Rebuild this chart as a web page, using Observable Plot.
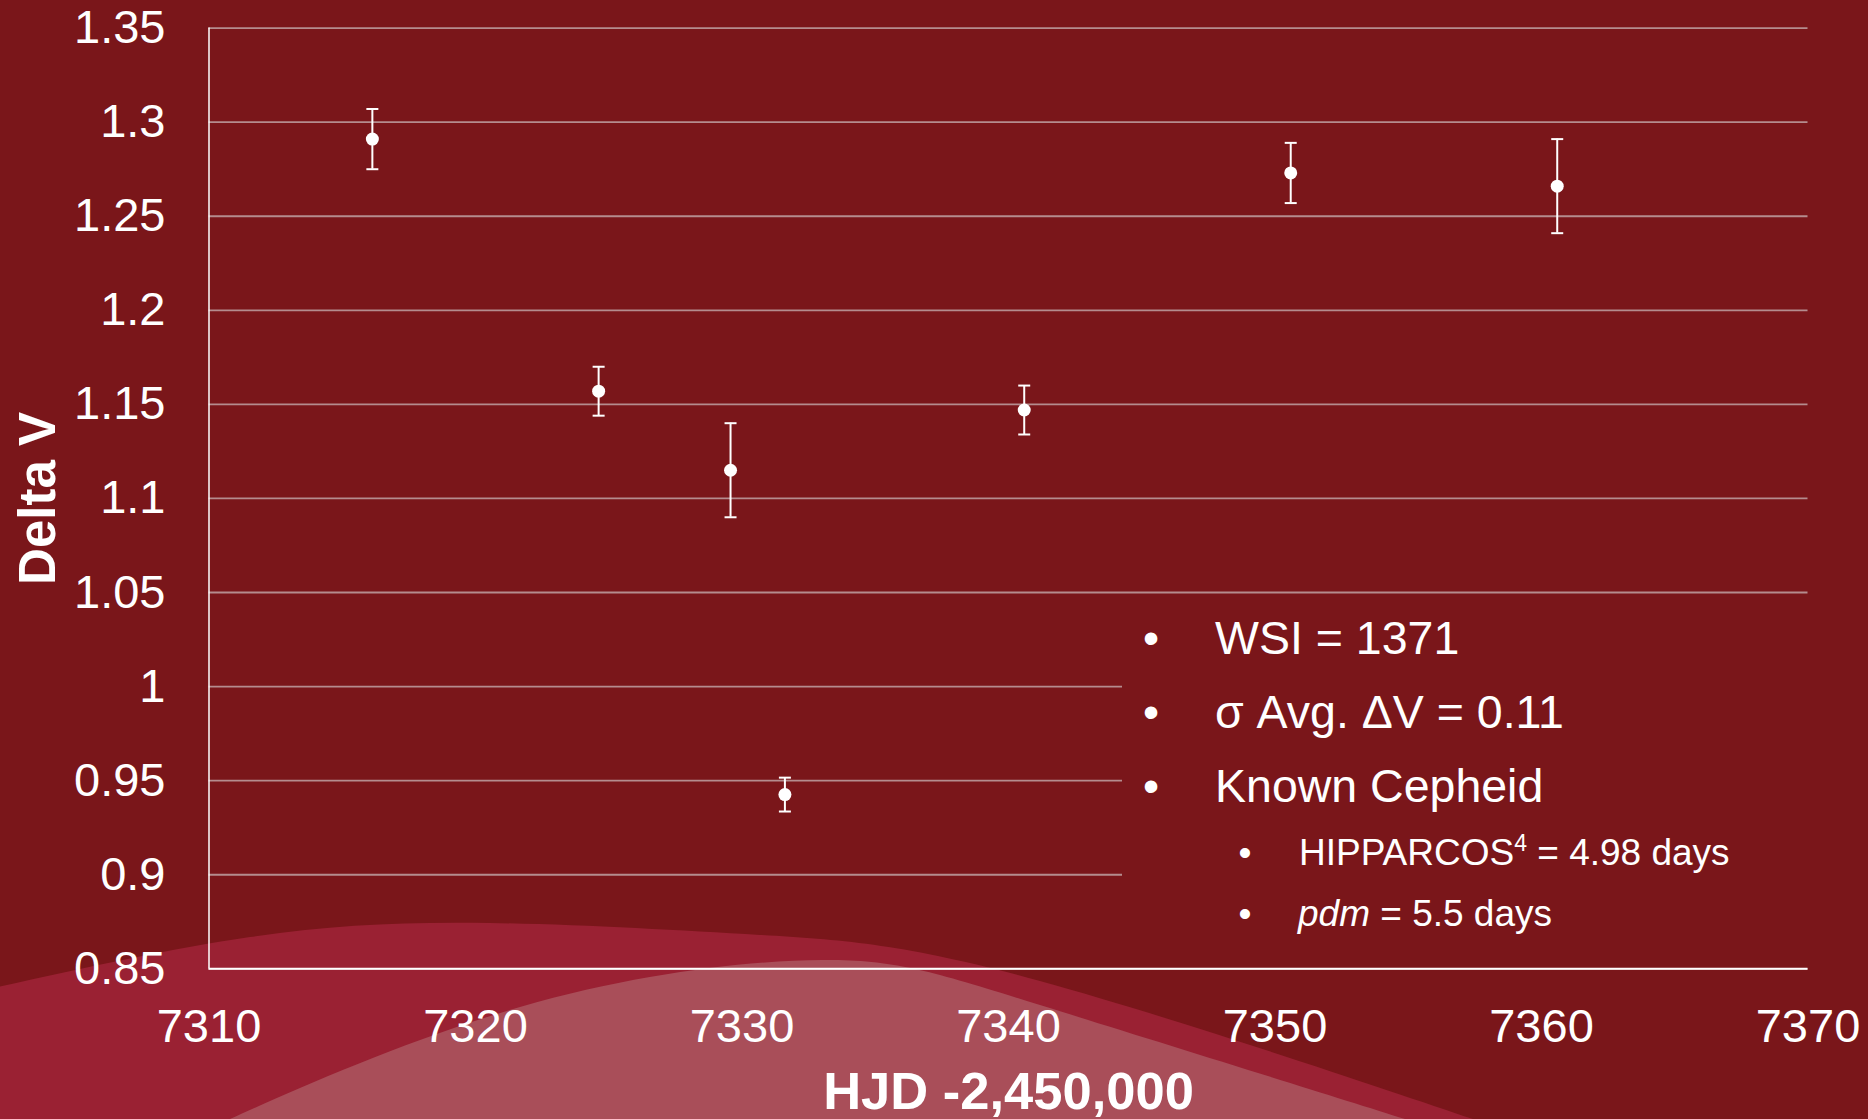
<!DOCTYPE html>
<html>
<head>
<meta charset="utf-8">
<script src="https://cdn.jsdelivr.net/npm/d3@7"></script>
<script src="https://cdn.jsdelivr.net/npm/@observablehq/plot@0.6"></script>
<style>
html, body { margin: 0; padding: 0; background: #7a161a; overflow: hidden; }
#wrap { position: relative; width: 1868px; height: 1119px; overflow: hidden; background: #7a161a;
        font-family: "Liberation Sans", Arial, sans-serif; }
#wrap > svg { position: absolute; left: 0; top: 0; }
</style>
</head>
<body>
<div id="wrap"></div>
<script>
// ---- data ----
const hjd    = [7316.13, 7324.62, 7329.57, 7331.61, 7340.59, 7350.59, 7360.59];
const deltaV = [1.291, 1.157, 1.115, 0.9426, 1.147, 1.273, 1.266];
const errV   = [0.016, 0.013, 0.025, 0.009, 0.013, 0.016, 0.025];

const xTicks = [7310, 7320, 7330, 7340, 7350, 7360, 7370];
const xTickLabels = ["7310", "7320", "7330", "7340", "7350", "7360", "7370"];
const yTicks = [0.85, 0.9, 0.95, 1, 1.05, 1.1, 1.15, 1.2, 1.25, 1.3, 1.35];
const yTickLabels = ["0.85", "0.9", "0.95", "1", "1.05", "1.1", "1.15", "1.2", "1.25", "1.3", "1.35"];
const xTitle = "HJD -2,450,000";
const yTitle = "Delta V";

const noteMain = ["WSI = 1371", "σ Avg. ΔV = 0.11", "Known Cepheid"];
const noteSub = ["HIPPARCOS", "4", " = 4.98 days", "pdm", " = 5.5 days"];

const W = 1868, H = 1119;
const BG = "#7a161a";
const FONT = "'Liberation Sans', Arial, sans-serif";

const wrap = d3.select("#wrap");

// ---- decorative background (slide design) ----
const deco = wrap.append("svg").attr("width", W).attr("height", H);
const redEdge = [[-20, 991], [250, 937], [490, 923], [760, 935], [1040, 981], [1473, 1119], [1490, 1125]];
const pinkEdge = [[220, 1125], [230, 1119], [520, 1007], [822, 960], [1040, 1005], [1405, 1119], [1415, 1125]];
const curve = d3.line().curve(d3.curveNatural);
deco.append("path").attr("d", curve(redEdge) + "L1490,1135L-20,1135Z").attr("fill", "#9a2133");
deco.append("path").attr("d", curve(pinkEdge) + "L1415,1135L220,1135Z").attr("fill", "#a94e59");

// ---- chart ----
const data = hjd.map((x, i) => ({x, y: deltaV[i], e: errV[i]}));
const capSymbol = {
  draw(ctx, size) {
    const r = Math.sqrt(size / Math.PI);
    ctx.moveTo(-r, 0);
    ctx.lineTo(r, 0);
  }
};

const chart = Plot.plot({
  width: W,
  height: H,
  marginLeft: 208.5,
  marginRight: 60.5,
  marginTop: 27.6,
  marginBottom: 150.7,
  style: {background: "transparent", color: "white", fontFamily: FONT, overflow: "visible"},
  x: {domain: [7310, 7370]},
  y: {domain: [0.85, 1.35]},
  marks: [
    Plot.gridY(yTicks, {stroke: "#dcdcdc", strokeOpacity: 0.6, strokeWidth: 1.8}),
    Plot.ruleY([0.85], {stroke: "white", strokeWidth: 2}),
    Plot.ruleX([7310], {stroke: "white", strokeWidth: 1.5}),
    Plot.ruleX(data, {x: "x", y1: d => d.y - d.e, y2: d => d.y + d.e, stroke: "white", strokeWidth: 2}),
    Plot.dot(data, {x: "x", y: d => d.y + d.e, symbol: capSymbol, r: 6, stroke: "white", strokeWidth: 2}),
    Plot.dot(data, {x: "x", y: d => d.y - d.e, symbol: capSymbol, r: 6, stroke: "white", strokeWidth: 2}),
    Plot.dot(data, {x: "x", y: "y", r: 6.5, fill: "white", stroke: "none"}),
    Plot.axisX({ticks: xTicks, tickFormat: d => xTickLabels[xTicks.indexOf(d)], tickSize: 0, tickPadding: 40, fontSize: 47, label: null}),
    Plot.axisX({ticks: [], tickSize: 0, label: xTitle, labelAnchor: "center", labelArrow: "none", labelOffset: 140, fontSize: 52.5, fontWeight: "bold"}),
    Plot.axisY({ticks: yTicks, tickFormat: d => yTickLabels[yTicks.indexOf(d)], tickSize: 0, tickPadding: 43.5, fontSize: 47, label: null}),
    Plot.axisY({ticks: [], tickSize: 0, label: yTitle, labelAnchor: "center", labelArrow: "none", labelOffset: 190, fontSize: 51, fontWeight: "bold"})
  ]
});
wrap.node().appendChild(chart);

// ---- text box (covers gridlines, as in the slide) ----
const ov = wrap.append("svg").attr("width", W).attr("height", H)
  .style("font-family", FONT).attr("fill", "white");
ov.append("rect").attr("x", 1122).attr("y", 598).attr("width", 692).attr("height", 364).attr("fill", BG);

const mainBase = [654, 728, 802];
noteMain.forEach((t, i) => {
  ov.append("text").attr("x", 1151).attr("y", mainBase[i]).attr("text-anchor", "middle")
    .attr("font-size", 46).text("•");
  ov.append("text").attr("x", 1215).attr("y", mainBase[i]).attr("font-size", 46.5).text(t);
});

const subBase = [865, 926];
ov.append("text").attr("x", 1245).attr("y", subBase[0]).attr("text-anchor", "middle").attr("font-size", 37).text("•");
ov.append("text").attr("x", 1245).attr("y", subBase[1]).attr("text-anchor", "middle").attr("font-size", 37).text("•");
const s1 = ov.append("text").attr("x", 1299).attr("y", subBase[0]).attr("font-size", 37);
s1.append("tspan").text(noteSub[0]);
s1.append("tspan").attr("font-size", 23).attr("dy", -14).text(noteSub[1]);
s1.append("tspan").attr("dy", 14).text(noteSub[2]);
const s2 = ov.append("text").attr("x", 1298).attr("y", subBase[1]).attr("font-size", 37);
s2.append("tspan").attr("font-style", "italic").text(noteSub[3]);
s2.append("tspan").text(noteSub[4]);
</script>
</body>
</html>
